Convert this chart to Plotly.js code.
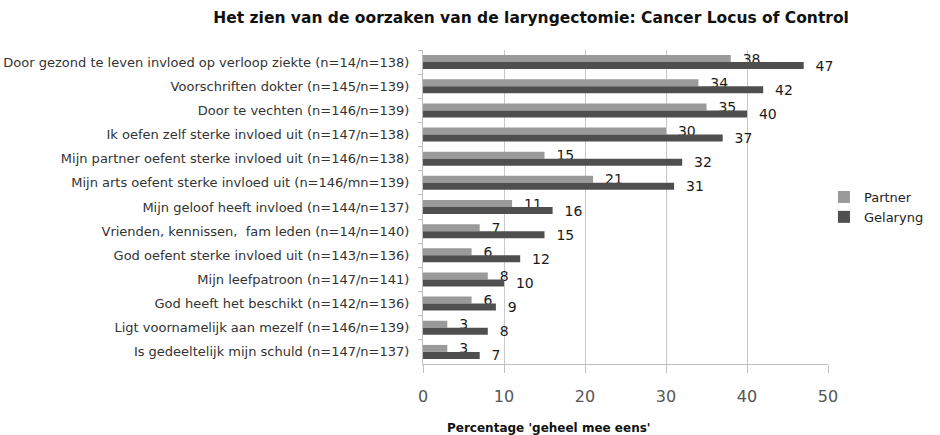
<!DOCTYPE html>
<html>
<head>
<meta charset="utf-8">
<script src="https://cdn.plot.ly/plotly-3.0.1.min.js"></script>
<style>html,body{margin:0;padding:0;background:#fff;}#chart{width:940px;height:435px;}</style>
</head>
<body>
<div id="chart"></div>
<script>
const categories = [
  "Door gezond te leven invloed op verloop ziekte (n=14/n=138)",
  "Voorschriften dokter (n=145/n=139)",
  "Door te vechten (n=146/n=139)",
  "Ik oefen zelf sterke invloed uit (n=147/n=138)",
  "Mijn partner oefent sterke invloed uit (n=146/n=138)",
  "Mijn arts oefent sterke invloed uit (n=146/mn=139)",
  "Mijn geloof heeft invloed (n=144/n=137)",
  "Vrienden, kennissen,  fam leden (n=14/n=140)",
  "God oefent sterke invloed uit (n=143/n=136)",
  "Mijn leefpatroon (n=147/n=141)",
  "God heeft het beschikt (n=142/n=136)",
  "Ligt voornamelijk aan mezelf (n=146/n=139)",
  "Is gedeeltelijk mijn schuld (n=147/n=137)"
];
const partner  = [38, 34, 35, 30, 15, 21, 11, 7, 6, 8, 6, 3, 3];
const gelaryng = [47, 42, 40, 37, 32, 31, 16, 15, 12, 10, 9, 8, 7];
const xTicks = [0, 10, 20, 30, 40, 50];

const FONT = "'DejaVu Sans', sans-serif";

const traces = [
  {
    type: 'bar', orientation: 'h', name: 'Partner',
    y: categories, x: partner,
    text: partner.map(v => '  ' + v), textposition: 'outside', cliponaxis: false,
    constraintext: 'none',
    textfont: {family: FONT, size: 14, color: '#1a1a1a'},
    marker: {color: '#9a9a9a'}, hoverinfo: 'x'
  },
  {
    type: 'bar', orientation: 'h', name: 'Gelaryng',
    y: categories, x: gelaryng,
    text: gelaryng.map(v => '  ' + v), textposition: 'outside', cliponaxis: false,
    constraintext: 'none',
    textfont: {family: FONT, size: 14, color: '#1a1a1a'},
    marker: {color: '#4f4f4f'}, hoverinfo: 'x'
  }
];

const layout = {
  width: 940, height: 435,
  margin: {l: 423, r: 112, t: 50, b: 71, pad: 0, autoexpand: false},
  paper_bgcolor: '#ffffff', plot_bgcolor: '#ffffff',
  font: {family: FONT, color: '#333'},
  title: {
    text: 'Het zien van de oorzaken van de laryngectomie: Cancer Locus of Control',
    font: {family: FONT, size: 15.5, color: '#111', weight: 'bold'},
    x: 0.565, xanchor: 'center', y: 0.96, yanchor: 'middle'
  },
  barmode: 'group', bargap: 0.42, bargroupgap: 0,
  xaxis: {
    range: [0, 50], tickvals: xTicks, ticktext: xTicks.map(String),
    showgrid: true, gridcolor: '#c8c8c8', gridwidth: 1,
    zeroline: false, showline: true, linecolor: '#bfbfbf',
    ticks: 'outside', ticklen: 8, tickcolor: '#bfbfbf',
    tickfont: {family: FONT, size: 16, color: '#555'},
    ticklabelstandoff: 10,
    fixedrange: true
  },
  yaxis: {
    autorange: 'reversed', type: 'category',
    showline: true, linecolor: '#bfbfbf',
    ticks: 'outside', ticklen: 4, tickcolor: '#bfbfbf', tickson: 'boundaries',
    tickfont: {family: FONT, size: 13, color: '#333'},
    ticklabelstandoff: 10,
    fixedrange: true
  },
  legend: {
    x: 0.99, xanchor: 'left', y: 0.5, yanchor: 'middle',
    font: {family: FONT, size: 13, color: '#222'},
    bgcolor: 'rgba(0,0,0,0)', itemwidth: 30, tracegroupgap: 0
  },
  annotations: [{
    text: "Percentage 'geheel mee eens'", showarrow: false,
    xref: 'paper', yref: 'paper', x: 0.31, y: -0.205, xanchor: 'center', yanchor: 'middle',
    font: {family: FONT, size: 12, color: '#111', weight: 'bold'}
  }],
  showlegend: true
};

Plotly.newPlot('chart', traces, layout, {displayModeBar: false, staticPlot: true});
</script>
</body>
</html>
